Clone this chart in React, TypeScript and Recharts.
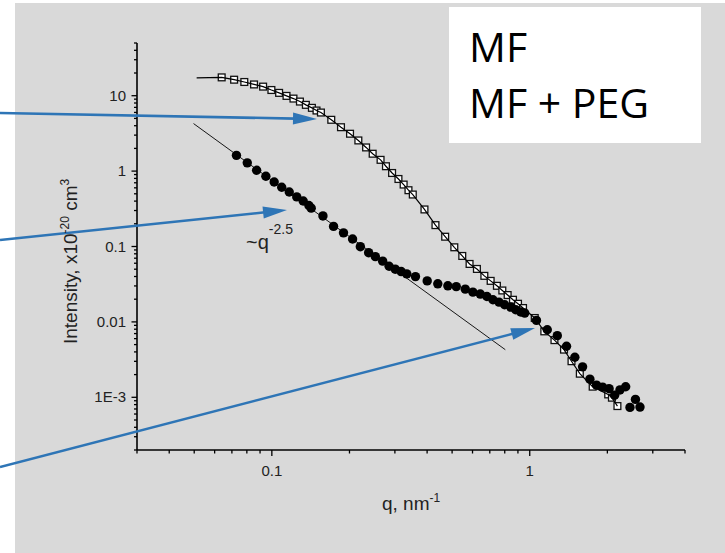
import React from "react";
import { ComposedChart, Scatter, XAxis, YAxis } from "recharts";

// MF (open squares)
const mfQ = [
  0.0639, 0.0714, 0.0782, 0.0853, 0.0925, 0.0996, 0.1067, 0.114, 0.1213, 0.1285,
  0.1355, 0.143, 0.149, 0.155, 0.17, 0.1854, 0.201, 0.2165, 0.232, 0.246,
  0.264, 0.277, 0.2926, 0.3097, 0.3244, 0.3387, 0.352, 0.3907, 0.431, 0.47,
  0.51, 0.5475, 0.5844, 0.624, 0.6668, 0.7054, 0.746, 0.783, 0.821, 0.861,
  0.9006, 0.9419, 1.0457, 1.139, 1.247, 1.358, 1.452, 1.564, 1.754, 2.015,
  2.083, 2.188,
];
const mfI = [
  17.5, 16.3, 15.2, 14.1, 13.2, 11.9, 10.9, 9.94, 9.16, 8.36,
  7.56, 6.9, 6.36, 5.98, 4.79, 3.82, 3.13, 2.55, 2.06, 1.7,
  1.41, 1.16, 0.944, 0.786, 0.663, 0.558, 0.489, 0.31, 0.192, 0.1348,
  0.0976, 0.0749, 0.0587, 0.0504, 0.0408, 0.035, 0.0301, 0.0261, 0.0227, 0.01965,
  0.0174, 0.01527, 0.01126, 0.00749, 0.00573, 0.00429, 0.00301, 0.002056, 0.001384, 0.001092,
  0.000988, 0.000765,
];

// fit curve for MF starts a bit before the first point
const mfFitStartQ = 0.0511;
const mfFitStartI = 17.2;

// MF + PEG (filled circles)
const pegQ = [
  0.0729, 0.0803, 0.0873, 0.0948, 0.1021, 0.1092, 0.1168, 0.1249, 0.1323, 0.1392,
  0.1421, 0.1578, 0.1735, 0.1896, 0.2056, 0.2204, 0.2373, 0.252, 0.269, 0.2849,
  0.301, 0.3173, 0.3336, 0.3605, 0.4003, 0.44, 0.4814, 0.5189, 0.5624, 0.602,
  0.6432, 0.6823, 0.72, 0.7599, 0.7993, 0.8436, 0.8822, 0.9227, 0.9563, 1.062,
  1.1697, 1.279, 1.389, 1.496, 1.603, 1.711, 1.816, 1.917, 2.031, 2.134,
  2.238, 2.355, 2.447, 2.57, 2.676,
];
const pegI = [
  1.617, 1.287, 1.025, 0.854, 0.718, 0.611, 0.528, 0.455, 0.4016, 0.35,
  0.3226, 0.2543, 0.1848, 0.1517, 0.1257, 0.0994, 0.0828, 0.0733, 0.0639, 0.0547,
  0.05, 0.0465, 0.0433, 0.0399, 0.035, 0.032, 0.0301, 0.0294, 0.0272, 0.0248,
  0.0234, 0.0217, 0.01965, 0.0183, 0.01687, 0.01573, 0.0145, 0.01351, 0.0131, 0.01047,
  0.00788, 0.00657, 0.00475, 0.0034, 0.002536, 0.00174, 0.00145, 0.001364, 0.001302, 0.001066,
  0.001252, 0.00138, 0.000735, 0.000938, 0.000742,
];

// ~q^-2.5 guide line
const powQ = [0.0497, 0.804];
const powI = [4.27, 0.00428];

const xTicks = [
  0.03, 0.04, 0.05, 0.06, 0.07, 0.08, 0.09, 0.1, 0.2, 0.3, 0.4, 0.5, 0.6, 0.7,
  0.8, 0.9, 1, 2, 3, 4,
];
const xMajor = [0.1, 1];
const xLabels = ["0.1", "1"];

const yMajor = [10, 1, 0.1, 0.01, 0.001];
const yLabels = ["10", "1", "0.1", "0.01", "1E-3"];
const yTicks: number[] = [];
[0.0001, 0.001, 0.01, 0.1, 1, 10].forEach((d) => {
  for (let m = 1; m <= 9; m++) {
    const v = +(m * d).toPrecision(3);
    if (v >= 0.0002 && v <= 50) yTicks.push(v);
  }
});

const mf = mfQ.map((q, i) => ({ q, I: mfI[i] }));
const mfFit = [{ q: mfFitStartQ, I: mfFitStartI }, ...mf];
const peg = pegQ.map((q, i) => ({ q, I: pegI[i] }));
const pow = powQ.map((q, i) => ({ q, I: powI[i] }));

const FONT = "'Liberation Sans', Arial, sans-serif";
const BLUE = "#2e75b6";

const XTick = (props: any) => {
  const { x, y, payload } = props;
  const k = xMajor.indexOf(payload.value);
  const major = k >= 0;
  return (
    <g>
      <line x1={x} y1={y} x2={x} y2={y + (major ? 6 : 3.5)} stroke="#000" strokeWidth={1.3} />
      {major && (
        <text x={x} y={y + 26} textAnchor="middle" fontSize={15} fill="#222" fontFamily={FONT}>
          {xLabels[k]}
        </text>
      )}
    </g>
  );
};

const YTick = (props: any) => {
  const { x, y, payload } = props;
  const k = yMajor.findIndex((v) => Math.abs(v - payload.value) / v < 1e-6);
  const major = k >= 0;
  return (
    <g>
      <line x1={x} y1={y} x2={x - (major ? 5.5 : 3)} y2={y} stroke="#000" strokeWidth={1.3} />
      {major && (
        <text x={x - 11} y={y + 5} textAnchor="end" fontSize={15} fill="#222" fontFamily={FONT}>
          {yLabels[k]}
        </text>
      )}
    </g>
  );
};

const Square = (p: any) => (
  <rect x={p.cx - 3.4} y={p.cy - 3.4} width={6.8} height={6.8} fill="#fff" stroke="#111" strokeWidth={1.3} />
);
const Dot = (p: any) => <circle cx={p.cx} cy={p.cy} r={4.7} fill="#000" />;
const NoShape = () => <g />;

// blue annotation arrows (start at the left edge, tip near the curves)
const arrows = [
  { x1: 0, y1: 113, x2: 317, y2: 119 },
  { x1: 0, y1: 240, x2: 287, y2: 210 },
  { x1: 0, y1: 467, x2: 535, y2: 328 },
];

const Arrow = ({ x1, y1, x2, y2 }: { x1: number; y1: number; x2: number; y2: number }) => {
  const len = Math.hypot(x2 - x1, y2 - y1);
  const ux = (x2 - x1) / len;
  const uy = (y2 - y1) / len;
  const hl = 24;
  const hw = 6;
  const bx = x2 - ux * hl;
  const by = y2 - uy * hl;
  const pts = `${x2},${y2} ${bx - uy * hw},${by + ux * hw} ${bx + uy * hw},${by - ux * hw}`;
  return (
    <g>
      <line x1={x1} y1={y1} x2={bx + ux * 2} y2={by + uy * 2} stroke={BLUE} strokeWidth={2.6} />
      <polygon points={pts} fill={BLUE} />
    </g>
  );
};

export default function App() {
  return (
    <div style={{ position: "absolute", left: 0, top: 0, width: 725, height: 553, background: "#fff" }}>
      <div style={{ position: "absolute", left: 15, top: 3, width: 710, height: 550, background: "#d9d9d9" }} />
      <div style={{ position: "absolute", left: 0, top: 0 }}>
        <ComposedChart width={725} height={553} margin={{ top: 43, right: 40, bottom: 73, left: 77 }}>
          <XAxis
            dataKey="q"
            type="number"
            scale="log"
            domain={[0.03, 4]}
            allowDataOverflow
            ticks={xTicks}
            interval={0}
            height={30}
            tickSize={0}
            tickMargin={0}
            tick={<XTick />}
            axisLine={{ stroke: "#000", strokeWidth: 1.6 }}
          />
          <YAxis
            dataKey="I"
            type="number"
            scale="log"
            domain={[0.0002, 50]}
            allowDataOverflow
            ticks={yTicks}
            interval={0}
            width={60}
            tickSize={0}
            tickMargin={0}
            tick={<YTick />}
            axisLine={{ stroke: "#000", strokeWidth: 1.6 }}
          />
          <Scatter
            name="pow"
            data={pow}
            line={{ stroke: "#000", strokeWidth: 0.9 }}
            shape={NoShape}
            isAnimationActive={false}
          />
          <Scatter name="MF" data={mf} shape={Square} isAnimationActive={false} />
          <Scatter
            name="MF fit"
            data={mfFit}
            line={{ stroke: "#000", strokeWidth: 1.2 }}
            shape={NoShape}
            isAnimationActive={false}
          />
          <Scatter name="MF + PEG" data={peg} shape={Dot} isAnimationActive={false} />
        </ComposedChart>
      </div>

      <svg width={725} height={553} style={{ position: "absolute", left: 0, top: 0, pointerEvents: "none" }}>
        {arrows.map((a, i) => (
          <Arrow key={i} {...a} />
        ))}
        <text x={246} y={249} fontSize={20} fill="#222" fontFamily={FONT}>
          ~q
          <tspan dy={-15} fontSize={14}>
            -2.5
          </tspan>
        </text>
        <text transform="rotate(-90)" x={-344} y={77} fontSize={19} fill="#222" fontFamily={FONT}>
          Intensity, x10
          <tspan dy={-8} fontSize={12}>
            -20
          </tspan>
          <tspan dy={8}> cm</tspan>
          <tspan dy={-8} fontSize={12}>
            3
          </tspan>
        </text>
        <text x={382} y={510} fontSize={19} fill="#222" fontFamily={FONT}>
          q, nm
          <tspan dy={-8} fontSize={12}>
            -1
          </tspan>
        </text>
      </svg>

      <svg width={252} height={136} style={{ position: "absolute", left: 449, top: 7, background: "#fff" }}>
        <text x={20} y={55} fontSize={41} fill="#000" fontFamily="'Open Sans', sans-serif">
          MF
        </text>
        <text x={20} y={111} fontSize={41} fill="#000" fontFamily="'Open Sans', sans-serif">
          MF + PEG
        </text>
      </svg>
    </div>
  );
}
